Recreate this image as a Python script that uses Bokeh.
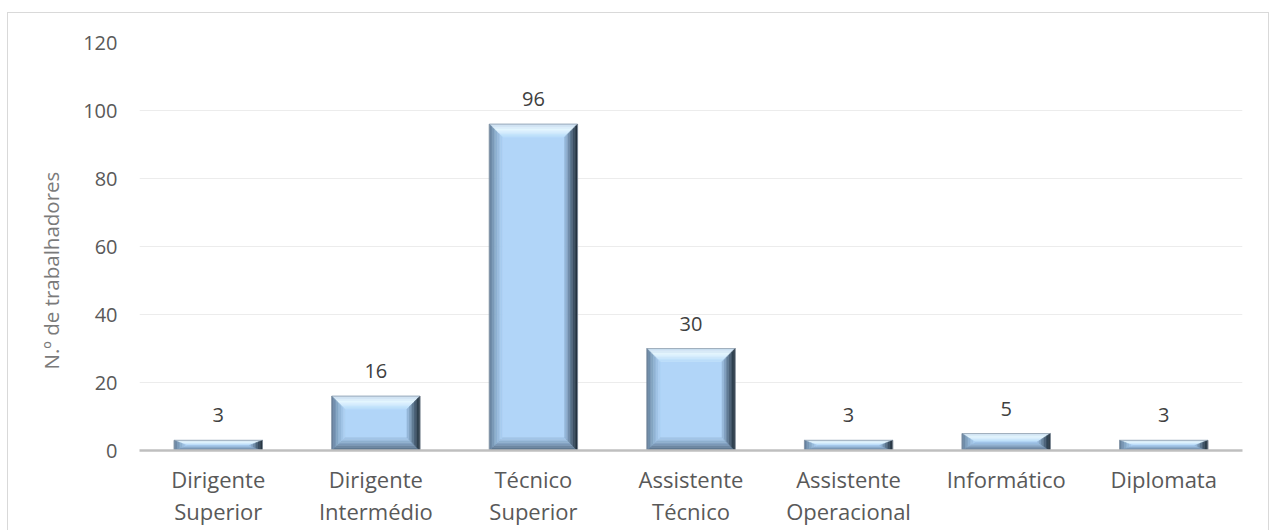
import numpy as np
from bokeh.plotting import figure
from bokeh.models import ColumnDataSource, FixedTicker, LabelSet, Range1d, Title
from bokeh.core.properties import value
from bokeh.embed import file_html
from bokeh.resources import INLINE

# ---------------- data ----------------
categories = ["Dirigente Superior", "Dirigente Intermédio", "Técnico Superior",
              "Assistente Técnico", "Assistente Operacional", "Informático", "Diplomata"]
tick_labels = ["Dirigente\nSuperior", "Dirigente\nIntermédio", "Técnico\nSuperior",
               "Assistente\nTécnico", "Assistente\nOperacional", "Informático", "Diplomata"]
values = [3, 16, 96, 30, 3, 5, 3]
y_ticks = [0, 20, 40, 60, 80, 100, 120]
y_title = "N.º de trabalhadores"

# ---------------- layout ----------------
W, H = 1262, 518
ML, MR, MT, MB = 131, 28, 29, 81
FONT = "Open Sans"
n = len(categories)
ymax = 120

p = figure(width=W, height=H, output_backend="svg", toolbar_location=None,
           x_range=Range1d(-0.5, n - 0.5), y_range=Range1d(0, ymax),
           min_border_left=ML, min_border_right=MR, min_border_top=MT, min_border_bottom=MB,
           background_fill_color="white", border_fill_color="white",
           margin=(12, 0, 0, 7),
           styles={"border-top": "1px solid #d9d9d9", "border-left": "1px solid #d9d9d9",
                   "border-right": "1px solid #d9d9d9"})
p.outline_line_color = None

fw = W - ML - MR
fh = H - MT - MB
ux = n / fw          # data units per pixel in x
uy = ymax / fh       # data units per pixel in y

# ---------------- bevelled bars ----------------
def hex2rgb(h):
    h = h.lstrip("#")
    return np.array([int(h[i:i + 2], 16) for i in (0, 2, 4)], dtype=float)

def grad(stops, t):
    for (t0, c0), (t1, c1) in zip(stops[:-1], stops[1:]):
        if t0 <= t <= t1:
            f = (t - t0) / (t1 - t0) if t1 > t0 else 0
            c = hex2rgb(c0) * (1 - f) + hex2rgb(c1) * f
            return "#%02x%02x%02x" % tuple(int(round(v)) for v in c)
    return stops[-1][1]

TOP = [(0, "#c4d8ec"), (0.45, "#e4f6ff"), (1, "#b6daf9")]
BOT = [(0, "#4a6179"), (0.5, "#7f9dbb"), (1, "#a6cbef")]
LEFT = [(0, "#5d7894"), (0.5, "#8aaccc"), (1, "#acd1f5")]
RIGHT = [(0, "#1b2631"), (0.35, "#3f5468"), (1, "#9cc0e4")]
FACE = "#b1d5f8"

bw = 0.56
bev = 13
N = 8
xs, ys, cs = [], [], []
fl, fr, fb, ft = [], [], [], []
for i, v in enumerate(values):
    x0, x1 = i - bw / 2, i + bw / 2
    y0, y1 = 0.0, float(v)
    bx = bev * ux
    by = min(bev * uy, v / 2)
    for k in range(N):
        t0, t1 = k / N, (k + 1) / N
        tm = (t0 + t1) / 2
        # top
        xs.append([x0 + bx * t0, x1 - bx * t0, x1 - bx * t1, x0 + bx * t1])
        ys.append([y1 - by * t0, y1 - by * t0, y1 - by * t1, y1 - by * t1])
        cs.append(grad(TOP, tm))
        # bottom
        xs.append([x0 + bx * t0, x1 - bx * t0, x1 - bx * t1, x0 + bx * t1])
        ys.append([y0 + by * t0, y0 + by * t0, y0 + by * t1, y0 + by * t1])
        cs.append(grad(BOT, tm))
        # left
        xs.append([x0 + bx * t0, x0 + bx * t0, x0 + bx * t1, x0 + bx * t1])
        ys.append([y0 + by * t0, y1 - by * t0, y1 - by * t1, y0 + by * t1])
        cs.append(grad(LEFT, tm))
        # right
        xs.append([x1 - bx * t0, x1 - bx * t0, x1 - bx * t1, x1 - bx * t1])
        ys.append([y0 + by * t0, y1 - by * t0, y1 - by * t1, y0 + by * t1])
        cs.append(grad(RIGHT, tm))
    fl.append(x0 + bx); fr.append(x1 - bx); fb.append(by); ft.append(v - by)

p.ygrid.ticker = FixedTicker(ticks=y_ticks)
p.ygrid.grid_line_color = "#ececec"
p.ygrid.grid_line_width = 1
p.xgrid.visible = False

p.quad(left=fl, right=fr, bottom=fb, top=ft, fill_color=FACE, line_color=FACE, line_width=0.5)
p.patches(xs="xs", ys="ys", fill_color="cs", line_color="cs", line_width=0.6,
          source=ColumnDataSource(dict(xs=xs, ys=ys, cs=cs)))
p.quad(left=[i - bw / 2 for i in range(n)], right=[i + bw / 2 for i in range(n)],
       bottom=[0] * n, top=values, fill_color=None, line_color="#8c9aa8", line_width=1, line_alpha=0.7)

# data labels
lab_src = ColumnDataSource(dict(x=list(range(n)), y=values, t=[str(v) for v in values]))
p.add_layout(LabelSet(x="x", y="y", text="t", source=lab_src, y_offset=25,
                      text_align="center", text_baseline="middle",
                      text_font=value(FONT), text_font_size="20px", text_color="#404040"))

# axes
p.yaxis.ticker = FixedTicker(ticks=y_ticks)
p.yaxis.axis_line_color = None
p.yaxis.major_tick_line_color = None
p.yaxis.minor_tick_line_color = None
p.yaxis.major_label_standoff = 16
p.yaxis.major_label_text_font = FONT
p.yaxis.major_label_text_font_size = "20px"
p.yaxis.major_label_text_color = "#595959"

p.xaxis.ticker = FixedTicker(ticks=list(range(n)))
p.xaxis.major_label_overrides = {i: t for i, t in enumerate(tick_labels)}
p.xaxis.axis_line_color = "#bfbfbf"
p.xaxis.axis_line_width = 2.5
p.xaxis.major_tick_line_color = None
p.xaxis.minor_tick_line_color = None
p.xaxis.major_label_standoff = 7
p.xaxis.major_label_text_font = FONT
p.xaxis.major_label_text_font_size = "22px"
p.xaxis.major_label_text_color = "#595959"
p.xaxis.major_label_text_line_height = 1.07

# y-axis title (placed as a side title so it can sit slightly below centre, like the original)
p.add_layout(Title(text=y_title, align="left", offset=81, standoff=32,
                   text_font=FONT, text_font_size="20.5px", text_font_style="normal",
                   text_color="#7a7a7a"), "left")

open("out.html", "w").write(file_html(p, INLINE))
